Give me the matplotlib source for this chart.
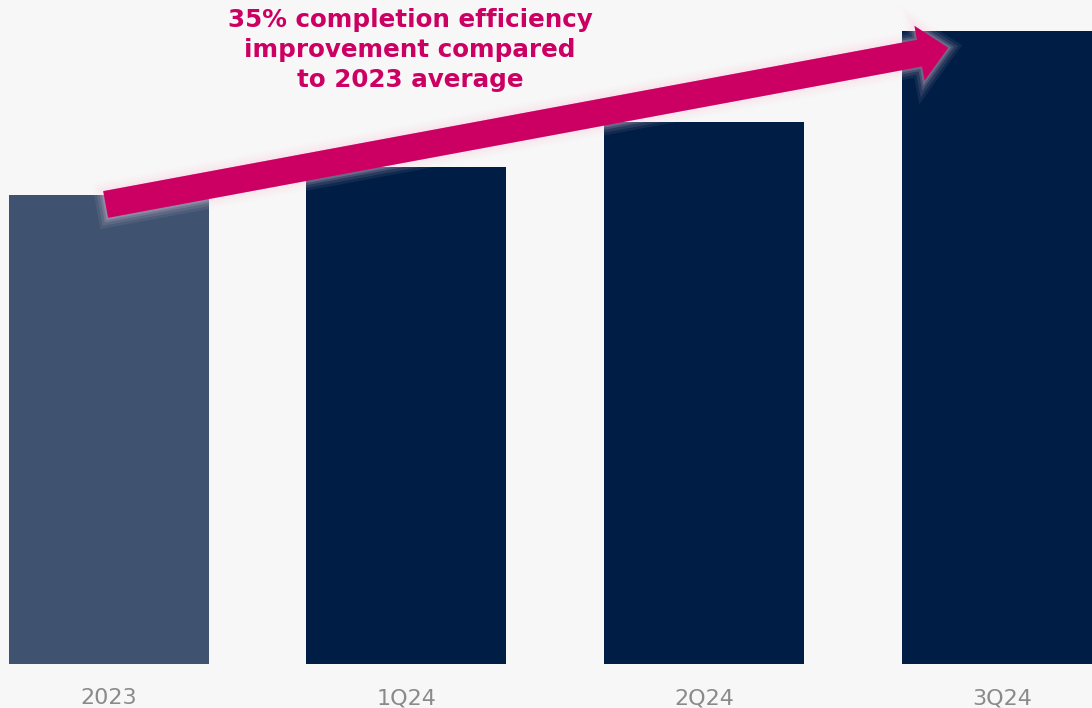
import matplotlib
matplotlib.use("Agg")
import matplotlib.pyplot as plt
import matplotlib.patheffects as pe
from matplotlib.patches import FancyArrowPatch

# completion efficiency index (2023 average = 100)
periods = ["2023", "1Q24", "2Q24", "3Q24"]
efficiency = [100, 106, 115.5, 135]
bar_colors = ["#3f5371", "#001e45", "#001e45", "#001e45"]

headline = "35% completion efficiency\nimprovement compared\nto 2023 average"

BG = "#f7f7f7"
PINK = "#cc0062"

fig = plt.figure(figsize=(10.92, 7.08), dpi=100, facecolor=BG)
ax = fig.add_axes([0, 44 / 708, 1, 664 / 708])
ax.set_facecolor(BG)

x = range(len(periods))
ax.bar(x, efficiency, width=0.672, color=bar_colors, zorder=2)

ax.set_xlim(-0.365, 3.303)
ax.set_ylim(0, 141.6)
ax.set_xticks(list(x))
ax.set_xticklabels(periods, fontsize=16, color="#8a8a8a")
ax.tick_params(axis="x", length=0, pad=17.5)
ax.set_yticks([])
for s in ax.spines.values():
    s.set_visible(False)

# trend arrow from the 2023 bar up to the latest quarter, with a soft glow
arrow = FancyArrowPatch(
    (-0.01, efficiency[0] - 2.0), (2.82, efficiency[-1] - 3.6),
    arrowstyle="simple,head_length=2.1,head_width=4.0,tail_width=1.95",
    mutation_scale=10, shrinkA=0, shrinkB=0,
    color=PINK, lw=0, zorder=4, clip_on=False, joinstyle="miter",
)
glow = "#fbd3e4"
arrow.set_path_effects([
    pe.Stroke(linewidth=14, foreground=glow, alpha=0.07),
    pe.Stroke(linewidth=10, foreground=glow, alpha=0.1),
    pe.Stroke(linewidth=6, foreground=glow, alpha=0.15),
    pe.Stroke(linewidth=3, foreground=glow, alpha=0.2),
    pe.Normal(),
])
ax.add_patch(arrow)

fig.text(410 / 1092, 1 - 50 / 708, headline, ha="center", va="center",
         multialignment="center", fontsize=17.7, fontweight="bold",
         color=PINK, linespacing=1.32)

fig.savefig("out.png", dpi=100, facecolor=BG)
